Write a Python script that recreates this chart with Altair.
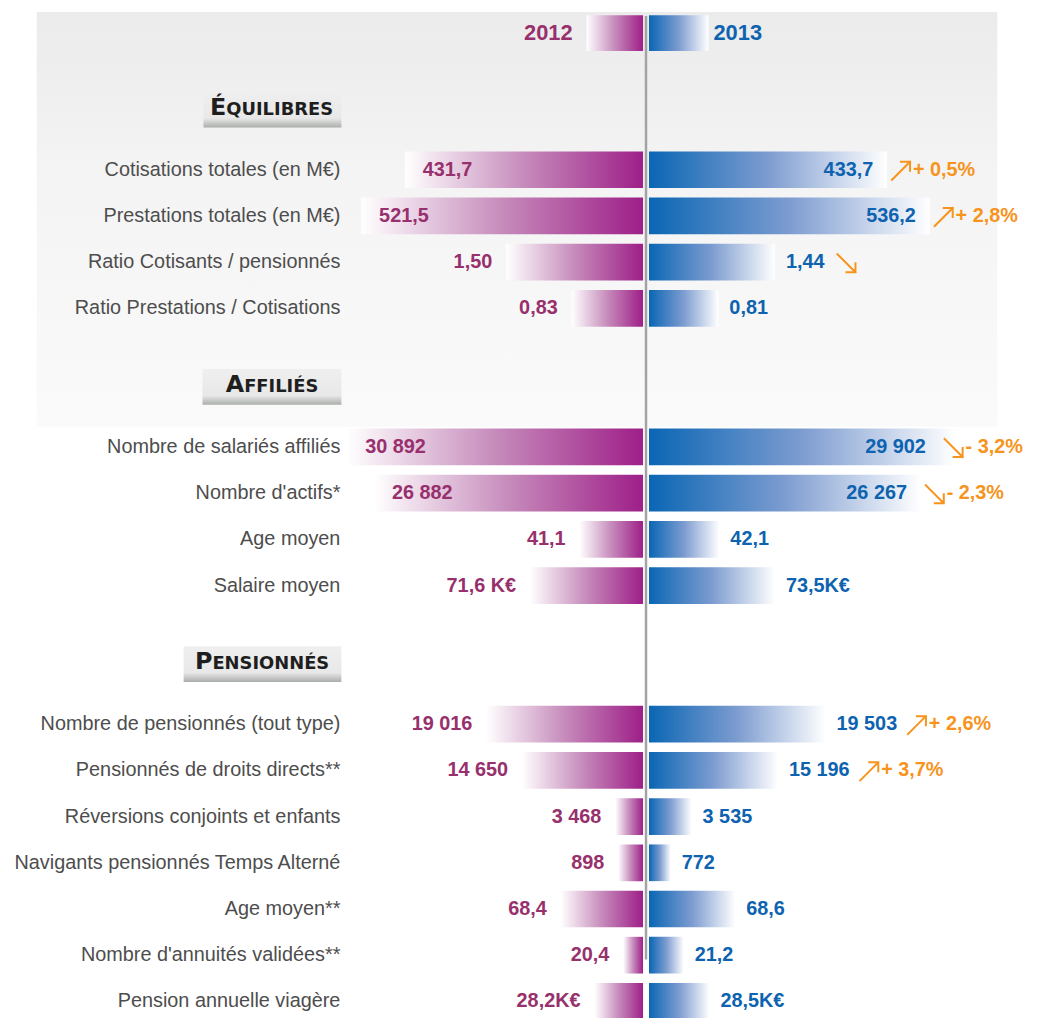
import altair as alt
import pandas as pd

# ---------------- data ----------------
labels = [
    "Cotisations totales (en M€)",
    "Prestations totales (en M€)",
    "Ratio Cotisants / pensionnés",
    "Ratio Prestations / Cotisations",
    "Nombre de salariés affiliés",
    "Nombre d'actifs*",
    "Age moyen",
    "Salaire moyen",
    "Nombre de pensionnés (tout type)",
    "Pensionnés de droits directs**",
    "Réversions conjoints et enfants",
    "Navigants pensionnés Temps Alterné",
    "Age moyen**",
    "Nombre d'annuités validées**",
    "Pension annuelle viagère",
]
values_2012 = ["431,7", "521,5", "1,50", "0,83", "30 892", "26 882", "41,1", "71,6 K€",
               "19 016", "14 650", "3 468", "898", "68,4", "20,4", "28,2K€"]
values_2013 = ["433,7", "536,2", "1,44", "0,81", "29 902", "26 267", "42,1", "73,5K€",
               "19 503", "15 196", "3 535", "772", "68,6", "21,2", "28,5K€"]
# displayed bar lengths (relative units)
bar_2012 = [240, 284, 138, 72, 298, 271, 64, 114, 158, 122, 28, 25, 83, 20, 49]
bar_2013 = [240, 283, 127, 70, 309, 274, 71, 127, 178, 130, 43, 22, 87, 35, 61]
trend = ["up", "up", "down", "", "down", "down", "", "", "up", "up", "", "", "", "", ""]
change = ["+ 0,5%", "+ 2,8%", "", "", "- 3,2%", "- 2,3%", "", "", "+ 2,6%", "+ 3,7%",
          "", "", "", "", ""]

years = ["2012", "2013"]
year_bar = [57, 60]

sections = ["ÉQUILIBRES", "AFFILIÉS", "PENSIONNÉS"]
section_initial = ["É", "A", "P"]
section_rest = ["QUILIBRES", "FFILIÉS", "ENSIONNÉS"]

# ---------------- layout (not data) ----------------
row_order = (["_years", "_gap1", sections[0]] + labels[0:4] + ["_gap2", sections[1]]
             + labels[4:8] + ["_gap3", sections[2]] + labels[8:15])
header_box = {  # x-from, x-to, split (units relative to the centre line)
    "ÉQUILIBRES": (-446, -307, -423),
    "AFFILIÉS": (-447, -307, -405),
    "PENSIONNÉS": (-466, -307, -437),
}

MAGENTA_TXT = "#97306C"
BLUE_TXT = "#0D63AF"
ORANGE = "#F7941D"

metrics = pd.DataFrame({
    "row": labels, "v2012": values_2012, "v2013": values_2013,
    "len2012": bar_2012, "len2013": bar_2013, "trend": trend, "change": change,
    "kind": "metric",
})
yearrow = pd.DataFrame({
    "row": ["_years"], "v2012": [years[0]], "v2013": [years[1]],
    "len2012": [year_bar[0]], "len2013": [year_bar[1]], "trend": [""], "change": [""],
    "kind": ["year"],
})
data = pd.concat([metrics, yearrow], ignore_index=True)

heads = pd.DataFrame({
    "row": sections, "initial": section_initial, "rest": section_rest,
    "bx0": [header_box[s][0] for s in sections],
    "bx1": [header_box[s][1] for s in sections],
    "split": [header_box[s][2] for s in sections],
})

W, H = 1032, 1010
xs = alt.Scale(domain=[-643, 389], nice=False, zero=False)
ys = alt.Scale(type="point", domain=row_order, range=[19.4, 997.2], padding=0)
Y = alt.Y("row:N", scale=ys, axis=None)

base = alt.Chart(data).transform_calculate(
    l0="-3 - datum.len2012",
    l1="-3",
    r0="3",
    r1="3 + datum.len2013",
)

# background panel
panel = alt.Chart(pd.DataFrame({"a": [0]})).mark_rect(
    fill=alt.Gradient(gradient="linear", x1=0, x2=0, y1=0, y2=1,
                      stops=[alt.GradientStop(offset=0, color="#EBEBEB"),
                             alt.GradientStop(offset=0.4, color="#F4F4F4"),
                             alt.GradientStop(offset=1, color="#FAFAFA")])
).encode(x=alt.value(29), x2=alt.value(997), y=alt.value(0), y2=alt.value(418))

centre = alt.Chart(pd.DataFrame({"c": [0]})).mark_rule(
    color="#A3A3A3", strokeWidth=2.5
).encode(x=alt.X("c:Q", scale=xs, axis=None), y=alt.value(4), y2=alt.value(955))

left_grad = alt.Gradient(gradient="linear", x1=0, x2=1, y1=0, y2=0,
                         stops=[alt.GradientStop(offset=0, color="#FFFFFF"),
                                alt.GradientStop(offset=0.5, color="#C68BBB"),
                                alt.GradientStop(offset=1, color="#9E1F88")])
right_grad = alt.Gradient(gradient="linear", x1=0, x2=1, y1=0, y2=0,
                          stops=[alt.GradientStop(offset=0, color="#0A66B4"),
                                 alt.GradientStop(offset=0.5, color="#7D9CD0"),
                                 alt.GradientStop(offset=1, color="#FFFFFF")])


def bars(kind, yoff):
    b = base.transform_filter(f"datum.kind == '{kind}'")
    sz = 37 if kind == "metric" else 36
    bl = b.mark_bar(size=sz, fill=left_grad, yOffset=yoff).encode(
        x=alt.X("l0:Q", scale=xs, axis=None), x2="l1:Q", y=Y)
    br = b.mark_bar(size=sz, fill=right_grad, yOffset=yoff).encode(
        x=alt.X("r0:Q", scale=xs, axis=None), x2="r1:Q", y=Y)
    return [bl, br]


row_labels = base.transform_filter("datum.kind == 'metric'").mark_text(
    align="right", baseline="middle", font="Liberation Sans", fontSize=20,
    color="#4D4D4D").encode(x=alt.value(335), y=Y, text="row:N")

vfont = dict(font="Liberation Sans", fontWeight="bold", fontSize=20, baseline="middle")

# arrow start: after the bar (label inside) or after the label (label outside),
# kept inside the canvas
AX = ("min(datum.len2013 >= 200 ? datum.r1 + 6 : "
      "datum.r1 + 11 + length(datum.v2013) * 10 + 13, 302)")

l_in = base.transform_filter("datum.kind == 'metric' && datum.len2012 >= 200") \
    .transform_calculate(tx="datum.l0 + 18") \
    .mark_text(align="left", color=MAGENTA_TXT, **vfont) \
    .encode(x=alt.X("tx:Q", scale=xs, axis=None), y=Y, text="v2012:N")
l_out = base.transform_filter("datum.kind == 'metric' && datum.len2012 < 200") \
    .transform_calculate(tx="datum.l0 - 14") \
    .mark_text(align="right", color=MAGENTA_TXT, **vfont) \
    .encode(x=alt.X("tx:Q", scale=xs, axis=None), y=Y, text="v2012:N")
r_in = base.transform_filter("datum.kind == 'metric' && datum.len2013 >= 200") \
    .transform_calculate(ax=AX) \
    .transform_calculate(tx="datum.ax - 20") \
    .mark_text(align="right", color=BLUE_TXT, **vfont) \
    .encode(x=alt.X("tx:Q", scale=xs, axis=None), y=Y, text="v2013:N")
r_out = base.transform_filter("datum.kind == 'metric' && datum.len2013 < 200") \
    .transform_calculate(tx="datum.r1 + 11") \
    .mark_text(align="left", color=BLUE_TXT, **vfont) \
    .encode(x=alt.X("tx:Q", scale=xs, axis=None), y=Y, text="v2013:N")

yfont = dict(font="Liberation Sans", fontWeight="bold", fontSize=22, baseline="middle",
             yOffset=2)
y_l = base.transform_filter("datum.kind == 'year'") \
    .transform_calculate(tx="datum.l0 - 14") \
    .mark_text(align="right", color=MAGENTA_TXT, **yfont) \
    .encode(x=alt.X("tx:Q", scale=xs, axis=None), y=Y, text="v2012:N")
y_r = base.transform_filter("datum.kind == 'year'") \
    .transform_calculate(tx="datum.r1 + 5") \
    .mark_text(align="left", color=BLUE_TXT, **yfont) \
    .encode(x=alt.X("tx:Q", scale=xs, axis=None), y=Y, text="v2013:N")

UP = "M-1,1L1,-1M0,-1L1,-1L1,0"
DOWN = "M-1,-1L1,1M0,1L1,1L1,0"


def arrow_layer(direction, shape):
    return base.transform_filter(f"datum.trend == '{direction}'") \
        .transform_calculate(ax=AX) \
        .transform_calculate(axc="datum.ax + 8") \
        .mark_point(shape=shape, size=330, filled=False, stroke=ORANGE, strokeWidth=2,
                    opacity=1, strokeCap="square", yOffset=1) \
        .encode(x=alt.X("axc:Q", scale=xs, axis=None), y=Y)


pcts = base.transform_filter("datum.change != ''").transform_calculate(ax=AX) \
    .transform_calculate(px="datum.ax + 20") \
    .mark_text(align="left", color=ORANGE, **vfont) \
    .encode(x=alt.X("px:Q", scale=xs, axis=None), y=Y, text="change:N")

hbase = alt.Chart(heads)
hbox = hbase.mark_bar(size=36, yOffset=-14, fill=alt.Gradient(
    gradient="linear", x1=0, x2=0, y1=0, y2=1,
    stops=[alt.GradientStop(offset=0, color="#EFEFEF"),
           alt.GradientStop(offset=0.74, color="#E8E8E8"),
           alt.GradientStop(offset=1, color="#AAAEAA")])).encode(
    x=alt.X("bx0:Q", scale=xs, axis=None), x2="bx1:Q", y=Y)
hinit = hbase.mark_text(align="right", baseline="alphabetic", dy=-9, font="DejaVu Sans",
                        fontWeight="bold", fontSize=24, color="#1E1E1E").encode(
    x=alt.X("split:Q", scale=xs, axis=None), y=Y, text="initial:N")
hrest = hbase.mark_text(align="left", baseline="alphabetic", dy=-9, font="DejaVu Sans",
                        fontWeight="bold", fontSize=18, color="#1E1E1E").encode(
    x=alt.X("split:Q", scale=xs, axis=None), y=Y, text="rest:N")

chart = alt.layer(
    panel, centre, *bars("metric", 0), *bars("year", 2), hbox, hinit, hrest, row_labels,
    l_in, l_out, r_in, r_out, y_l, y_r, arrow_layer("up", UP), arrow_layer("down", DOWN),
    pcts,
).properties(
    width=W, height=H, padding=0, autosize=alt.AutoSizeParams(type="none"),
    background="white",
).configure_view(stroke=None)

chart.save("out.html", embed_options={"renderer": "svg", "actions": False})
